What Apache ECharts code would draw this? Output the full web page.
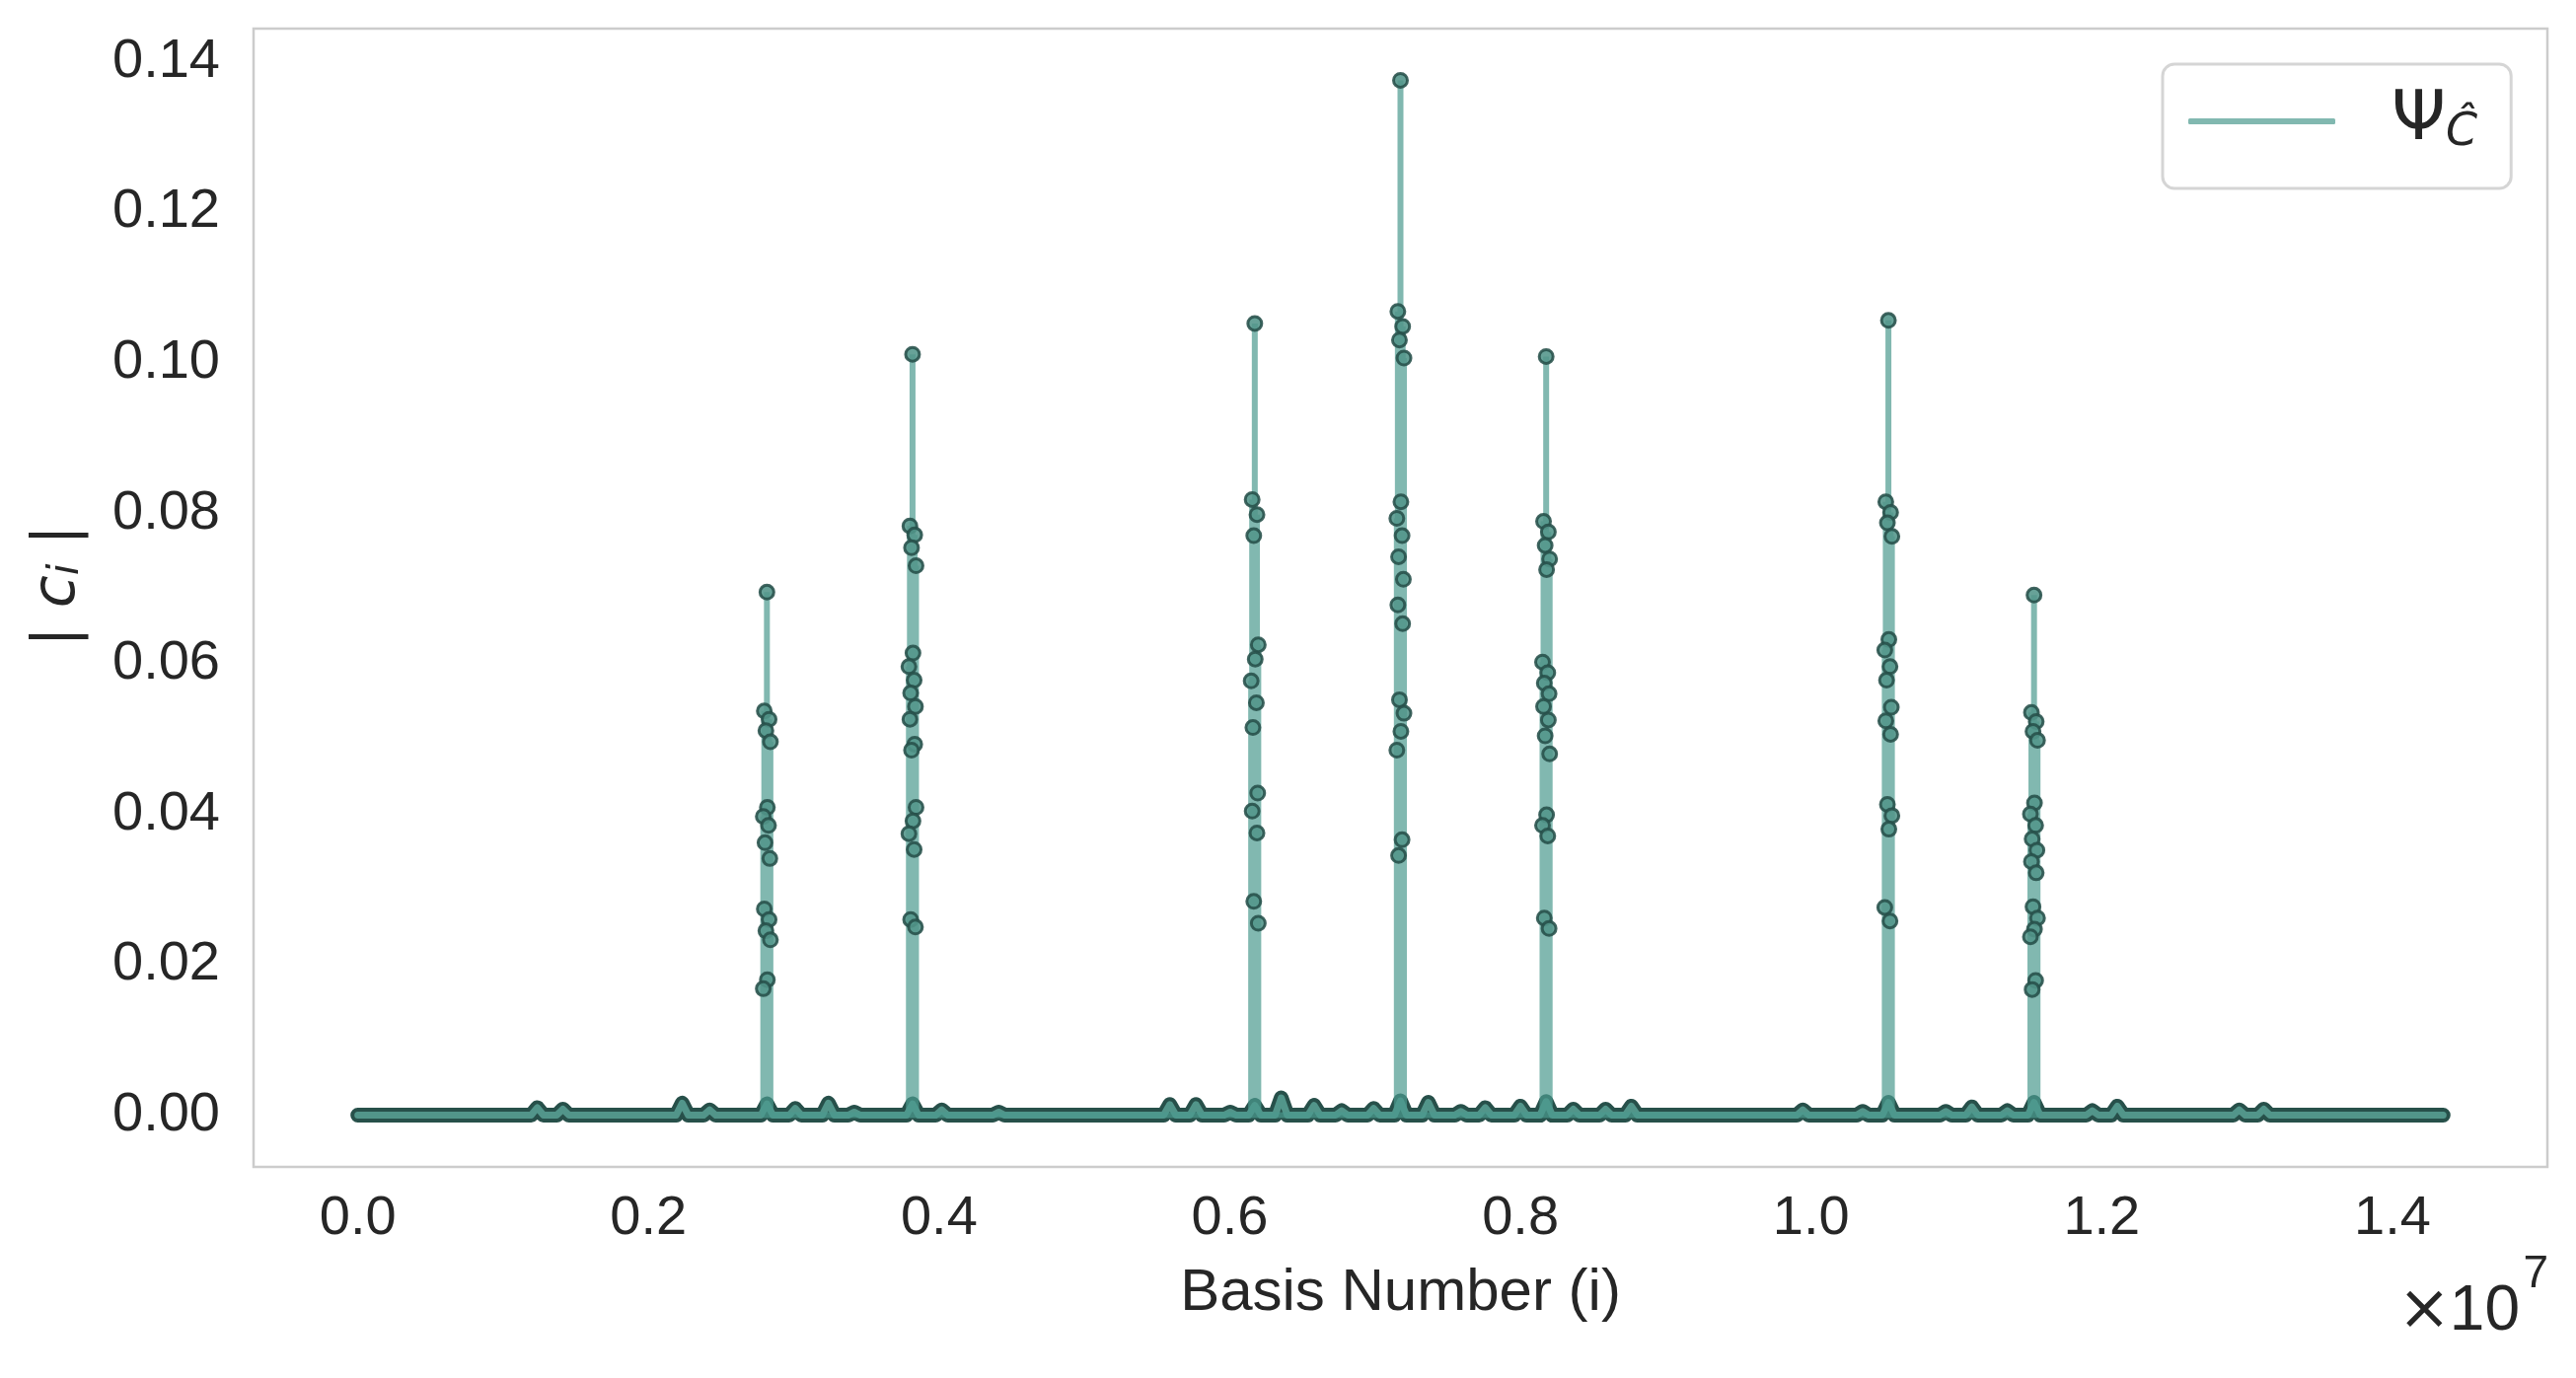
<!DOCTYPE html>
<html>
<head>
<meta charset="utf-8">
<script src="https://cdn.jsdelivr.net/npm/echarts@6/dist/echarts.min.js"></script>
<style>
html,body{margin:0;padding:0;background:#ffffff;}
#chart{width:2611px;height:1397px;}
</style>
</head>
<body>
<div id="chart"></div>
<script>
// ---------------- data ----------------
const N_BASIS = 14348907;            // 3^15 basis states (index 0 .. N-1)
const xTicks = [0, 2000000, 4000000, 6000000, 8000000, 10000000, 12000000, 14000000];
const yTicks = [0, 0.02, 0.04, 0.06, 0.08, 0.10, 0.12, 0.14];

// large-amplitude clusters (spikes)
const spikeIndex = [2815000, 3817000, 6172000, 7174453, 8177000, 10532000, 11534000];
const spikePeak  = [0.0695, 0.1011, 0.1052, 0.1375, 0.1008, 0.1056, 0.0691];
const cluster0 = [0.0537, 0.0526, 0.0511, 0.0496, 0.0409, 0.0397, 0.0385, 0.0362, 0.0341, 0.0274, 0.0260, 0.0245, 0.0233, 0.0180, 0.0168];
const cluster1 = [0.0783, 0.0771, 0.0754, 0.0730, 0.0614, 0.0596, 0.0578, 0.0561, 0.0543, 0.0526, 0.0493, 0.0485, 0.0409, 0.0391, 0.0374, 0.0353, 0.0260, 0.0250];
const cluster2 = [0.0818, 0.0798, 0.0770, 0.0625, 0.0606, 0.0577, 0.0548, 0.0515, 0.0428, 0.0404, 0.0375, 0.0284, 0.0255];
const cluster3 = [0.1068, 0.1048, 0.1030, 0.1006, 0.0815, 0.0793, 0.0770, 0.0742, 0.0712, 0.0678, 0.0653, 0.0552, 0.0534, 0.0510, 0.0485, 0.0366, 0.0345];
const cluster4 = [0.0789, 0.0775, 0.0757, 0.0739, 0.0725, 0.0602, 0.0588, 0.0574, 0.0560, 0.0543, 0.0525, 0.0504, 0.0480, 0.0399, 0.0385, 0.0371, 0.0262, 0.0248];
const cluster5 = [0.0815, 0.0801, 0.0787, 0.0769, 0.0632, 0.0618, 0.0596, 0.0578, 0.0542, 0.0524, 0.0506, 0.0413, 0.0398, 0.0380, 0.0276, 0.0258];
const cluster6 = [0.0535, 0.0523, 0.0510, 0.0498, 0.0415, 0.0400, 0.0385, 0.0367, 0.0352, 0.0337, 0.0322, 0.0277, 0.0262, 0.0247, 0.0237, 0.0179, 0.0167];
const spikeClusters = [cluster0, cluster1, cluster2, cluster3, cluster4, cluster5, cluster6];
// index offsets of cluster members from the cluster centre
const clusterOffset = [-18000, 15000, -7000, 24000, 3000, -25000, 11000, -13000, 20000];

// small amplitudes sitting on the zero line
const bumpIndex = [1235000, 1411000, 2232000, 2421000, 2815000, 3010000, 3238000, 3416000, 3817000, 4018000,
                   4410000, 5587000, 5767000, 6003000, 6172000, 6354000, 6580000, 6770000, 6990000, 7174453,
                   7366000, 7590000, 7758000, 8000000, 8177000, 8364000, 8586000, 8763000, 9943000, 10355000,
                   10532000, 10927000, 11106000, 11350000, 11534000, 11935000, 12107000, 12946000, 13115000];
const bumpValue = [0.0010, 0.0008, 0.0016, 0.0007, 0.0015, 0.0009, 0.0016, 0.0004, 0.0015, 0.0007,
                   0.0004, 0.0014, 0.0014, 0.0004, 0.0013, 0.0023, 0.0013, 0.0006, 0.0009, 0.0019,
                   0.0017, 0.0005, 0.0010, 0.0012, 0.0018, 0.0008, 0.0008, 0.0012, 0.0007, 0.0005,
                   0.0017, 0.0005, 0.0011, 0.0006, 0.0017, 0.0006, 0.0012, 0.0007, 0.0008];
// neighbouring (zero-amplitude) basis indices on each side of a small bump
const bumpHalfWidth = 42000;

// ---------------- build series data ----------------
const zeroLine = [[0, 0]];
bumpIndex.forEach((x, i) => {
  zeroLine.push([x - bumpHalfWidth, 0], [x, bumpValue[i]], [x + bumpHalfWidth, 0]);
});
zeroLine.push([N_BASIS - 1, 0]);

const spikeLine = [];
const spikeMarks = [];
spikeIndex.forEach((c, s) => {
  spikeLine.push([c, 0], [c, spikePeak[s]], [c, 0]);
  spikeMarks.push([c, spikePeak[s]]);
  spikeClusters[s].forEach((v, k) => {
    const x = c + clusterOffset[k % clusterOffset.length];
    spikeLine.push([x, 0], [x, v], [x, 0]);
    spikeMarks.push([x, v]);
  });
});

// axis range with 5% margins (matplotlib style)
const xPad = 0.05 * (N_BASIS - 1);
const yMaxData = Math.max(...spikePeak);
const yPad = 0.05 * yMaxData;

const TXT = '#262626';
const DARK = '#27504a';
const FACE = '#52958a';
const LINE = 'rgba(76,154,142,0.7)';

const option = {
  animation: false,
  backgroundColor: '#ffffff',
  grid: {
    left: 257, right: 29, top: 29, bottom: 214,
    show: true, borderColor: '#cccccc', borderWidth: 2.5, backgroundColor: 'transparent'
  },
  xAxis: {
    type: 'value',
    min: -xPad, max: N_BASIS - 1 + xPad,
    axisLine: {show: false}, axisTick: {show: false}, splitLine: {show: false},
    axisLabel: {
      customValues: xTicks,
      formatter: v => (v / 1e7).toFixed(1),
      fontSize: 56, fontFamily: 'Liberation Sans', color: TXT, margin: 25
    },
    name: 'Basis Number (i)',
    nameLocation: 'middle', nameGap: 98,
    nameTextStyle: {fontSize: 60, fontFamily: 'Liberation Sans', color: TXT}
  },
  yAxis: {
    type: 'value',
    min: -yPad, max: yMaxData + yPad,
    axisLine: {show: false}, axisTick: {show: false}, splitLine: {show: false},
    axisLabel: {
      customValues: yTicks,
      formatter: v => v.toFixed(2),
      fontSize: 56, fontFamily: 'Liberation Sans', color: TXT, margin: 34
    },
    name: '{b|| }{c|c}{s|i}{b| |}',
    nameLocation: 'middle', nameRotate: 90, nameGap: 168,
    nameTextStyle: {
      color: TXT,
      padding: [0, 0, 0, 24],
      rich: {
        b: {fontSize: 60, fontFamily: 'DejaVu Sans', color: TXT, lineHeight: 60},
        c: {fontSize: 60, fontFamily: 'DejaVu Sans', fontStyle: 'italic', color: TXT, lineHeight: 60},
        s: {fontSize: 42, fontFamily: 'DejaVu Sans', fontStyle: 'italic', color: TXT, lineHeight: 30, verticalAlign: 'bottom'}
      }
    }
  },
  legend: {
    show: true,
    data: [{name: 'Ψ', icon: 'roundRect'}],
    left: 2192, top: 65,
    padding: [23, 34, 33, 26],
    itemWidth: 149, itemHeight: 6,
    borderColor: '#d5d5d5', borderWidth: 3, borderRadius: 12, backgroundColor: '#ffffff',
    selectedMode: false,
    formatter: () => '{p|Ψ}{s|Ĉ}',
    textStyle: {
      color: TXT,
      rich: {
        p: {fontSize: 70, fontFamily: 'DejaVu Sans', color: TXT, lineHeight: 70, padding: [0, 0, 0, 52]},
        s: {fontSize: 46, fontFamily: 'DejaVu Sans', fontStyle: 'italic', color: TXT, lineHeight: 34, verticalAlign: 'bottom'}
      }
    }
  },
  graphic: [
    {type: 'text', x: 2484, y: 1330, silent: true,
     style: {text: '×', fontSize: 64, fontFamily: 'DejaVu Sans', fill: TXT, align: 'right', verticalAlign: 'middle'}},
    {type: 'text', x: 2554, y: 1330, silent: true,
     style: {text: '10', fontSize: 64, fontFamily: 'Liberation Sans', fill: TXT, align: 'right', verticalAlign: 'middle'}},
    {type: 'text', x: 2583, y: 1292, silent: true,
     style: {text: '7', fontSize: 46, fontFamily: 'Liberation Sans', fill: TXT, align: 'right', verticalAlign: 'middle'}}
  ],
  series: [
    {name: 'zeroDark', type: 'line', data: zeroLine, symbol: 'none', z: 1, silent: true,
     lineStyle: {color: DARK, width: 15, cap: 'round', join: 'round'}},
    {name: 'zeroFace', type: 'line', data: zeroLine, symbol: 'none', z: 2, silent: true,
     lineStyle: {color: FACE, width: 7, cap: 'round', join: 'round'}},
    {name: 'Ψ', type: 'line', data: spikeLine, symbol: 'none', z: 4, silent: true,
     itemStyle: {color: LINE},
     lineStyle: {color: LINE, width: 6}},
    {name: 'spikeMarkers', type: 'scatter', data: spikeMarks, symbol: 'circle', symbolSize: 14, z: 5, silent: true,
     itemStyle: {color: FACE, borderColor: DARK, borderWidth: 3, opacity: 0.88}}
  ]
};

const chart = echarts.init(document.getElementById('chart'), null, {renderer: 'canvas'});
chart.setOption(option);
</script>
</body>
</html>
